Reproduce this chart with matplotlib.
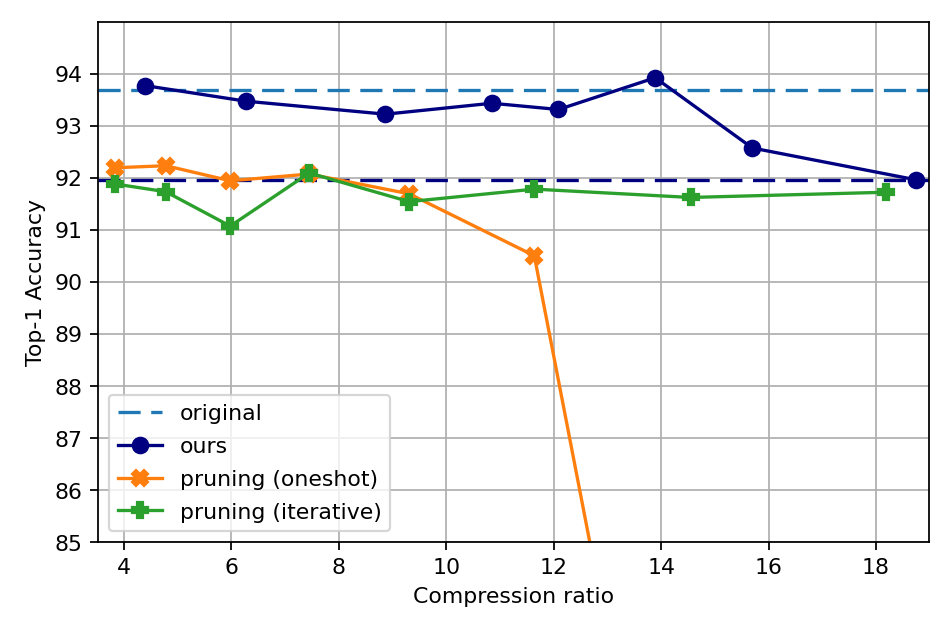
import numpy as np
from matplotlib import pyplot as plt

# values
original_acc = 93.69
ours_ratio = [4.39, 6.27, 8.87, 10.85, 12.09, 13.89, 15.70, 18.74]
ours_acc = [93.77, 93.47, 93.22, 93.43, 93.31, 93.92, 92.57, 91.96]
prune_ratio = [3.83, 4.78, 5.98, 7.45, 9.31, 11.64, 14.55, 18.18]
oneshot_acc = [92.19, 92.23, 91.94, 92.07, 91.69, 90.50, 75.0]
iterative_acc = [91.88, 91.73, 91.07, 92.09, 91.54, 91.78, 91.62, 91.72]

fig, ax = plt.subplots(figsize=(6, 4), dpi=952 / 6)

dash = (0, (6.7, 3.2))
ax.axhline(original_acc, color="tab:blue", linestyle=dash, label="original")
ax.axhline(ours_acc[-1], color="navy", linestyle=dash)
ax.plot(ours_ratio, ours_acc, "o-", color="navy", markersize=7, label="ours")
ax.plot(prune_ratio[:len(oneshot_acc)], oneshot_acc, "X-", color="tab:orange",
        markersize=7, label="pruning (oneshot)")
ax.plot(prune_ratio, iterative_acc, "P-", color="tab:green", markersize=7,
        label="pruning (iterative)")

ax.set_xlim(3.52, 18.99)
ax.set_ylim(85, 95)
ax.set_xticks(np.arange(4, 19, 2))
ax.set_yticks(np.arange(85, 95, 1))
ax.grid(True)
ax.set_axisbelow(True)
ax.set_xlabel("Compression ratio")
ax.set_ylabel("Top-1 Accuracy")
ax.legend(loc="lower left", labelspacing=0.58)

fig.subplots_adjust(left=0.103, right=0.976, top=0.965, bottom=0.145)
fig.savefig("out.png")
